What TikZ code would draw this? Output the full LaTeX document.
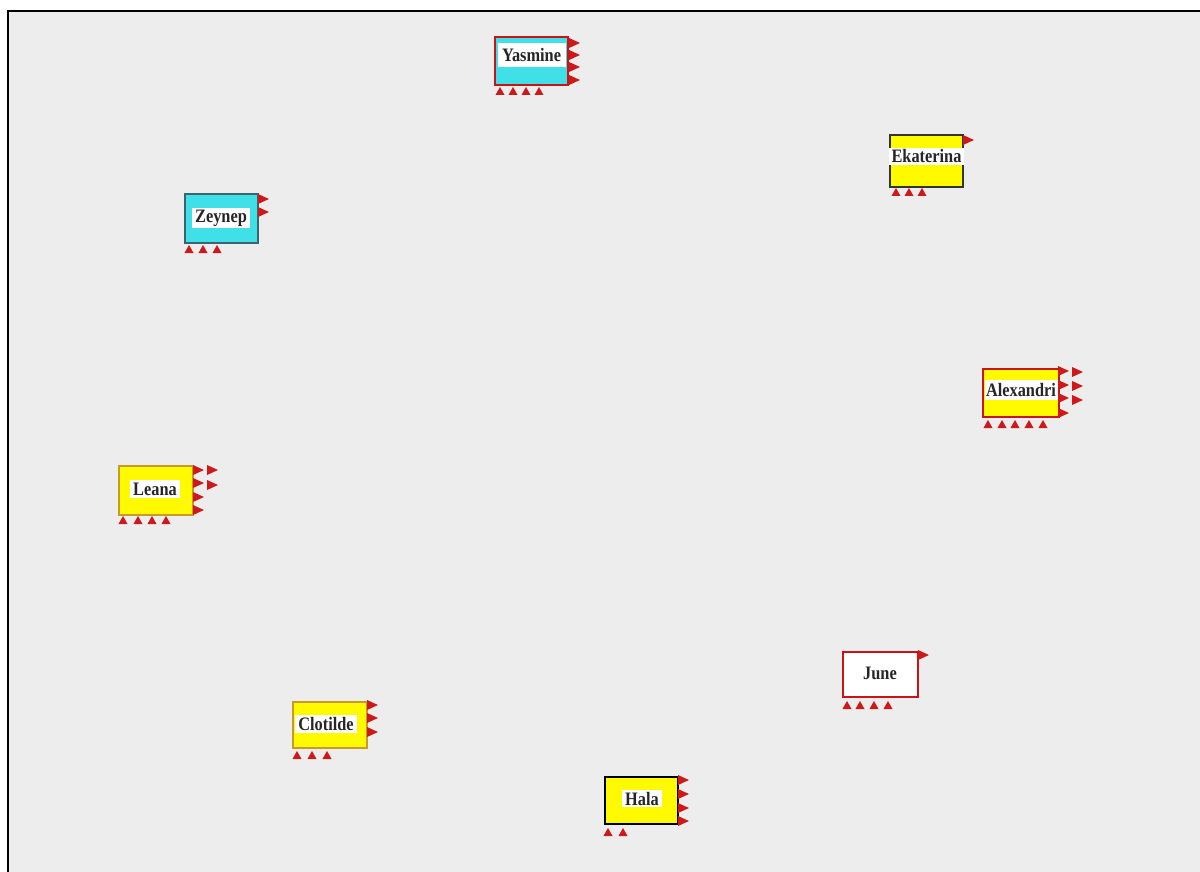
\documentclass[tikz,border=0pt]{standalone}
\usepackage{fontspec}
\setmainfont{Liberation Serif}
\newfontfamily\labfont{Liberation Serif}[FakeStretch=0.86]
\definecolor{bgc}{RGB}{237,237,237}
\definecolor{portred}{RGB}{205,25,25}
\definecolor{bordred}{RGB}{200,20,20}
\definecolor{cyanfill}{RGB}{64,224,232}
\definecolor{yelfill}{RGB}{255,250,0}
\definecolor{goldline}{RGB}{200,155,40}
\definecolor{tealline}{RGB}{60,100,110}
\newcommand\rports[2]{\foreach \yy in {#2} {\fill[portred] (#1,\yy-5) -- (#1+11,\yy) -- (#1,\yy+5) -- cycle;}}
\newcommand\bports[2]{\foreach \xx in {#2} {\fill[portred] (\xx-4.5,#1+4) -- (\xx,#1-4) -- (\xx+4.5,#1+4) -- cycle;}}
\tikzset{
  box/.style={rectangle, inner sep=0pt, outer sep=0pt},
  redbox/.style={box, draw=bordred, line width=2.5pt},
  thinbox/.style={box, draw=#1, line width=1.2pt},
  lab/.style={rectangle, inner sep=0pt, outer sep=0pt, fill=white, font=\labfont\bfseries\fontsize{19}{19}\selectfont, text=black!85}
}
\begin{document}
\begin{tikzpicture}[x=1pt,y=-1pt]
\useasboundingbox (0,0) rectangle (1200,872);
\fill[white] (0,0) rectangle (1200,872);
\fill[bgc] (8,11) rectangle (1200,872);
\draw[black, line width=2.5pt] (8,872) -- (8,11) -- (1200,11);

% Yasmine
\node[redbox, fill=cyanfill, minimum width=73pt, minimum height=48pt] (yas) at (531.5,61) {};
\node[lab, minimum width=68pt, minimum height=24pt] (yaslab) at (531.5,55) {Yasmine};
\rports{569}{43,55,67,80}
\bports{91}{500,513,526,539}

% Ekaterina
\node[thinbox=black!80, fill=yelfill, minimum width=73pt, minimum height=52pt] (eka) at (926.5,161) {};
\node[lab, minimum width=75pt, minimum height=17pt] (ekalab) at (926.5,156.5) {Ekaterina};
\rports{963}{140}
\bports{192}{896,909,922}

% Zeynep
\node[thinbox=tealline, fill=cyanfill, minimum width=73pt, minimum height=49pt] (zey) at (221.5,218.5) {};
\node[lab, minimum width=58pt, minimum height=20pt] (zeylab) at (221,218) {Zeynep};
\rports{258}{199,212}
\bports{249}{189,203,217}

% Alexandri
\node[redbox, fill=yelfill, minimum width=76pt, minimum height=48pt] (ale) at (1021,393) {};
\node[lab, minimum width=73pt, minimum height=20pt] (alelab) at (1021,390) {Alexandri};
\rports{1058}{371,385,398,413}
\rports{1072}{372,386,400}
\bports{424}{988,1002,1015,1029,1043}

% Leana
\node[thinbox=goldline, fill=yelfill, minimum width=74pt, minimum height=49pt] (lea) at (156,490.5) {};
\node[lab, minimum width=50pt, minimum height=18pt] (lealab) at (155,489) {Leana};
\rports{193}{470,483,497,510}
\rports{207}{470,485}
\bports{520}{123,138,152,166}

% June
\node[redbox, fill=white, minimum width=75pt, minimum height=45pt] (jun) at (880.5,674.5) {};
\node[lab, minimum width=40pt, minimum height=18pt] (junlab) at (880,673) {June};
\rports{918}{655}
\bports{705}{847,860,874,888}

% Clotilde
\node[thinbox=goldline, fill=yelfill, minimum width=74pt, minimum height=46pt] (clo) at (330,725) {};
\node[lab, minimum width=62pt, minimum height=18pt] (clolab) at (326,724) {Clotilde};
\rports{367}{705,718,732}
\bports{755}{297,312,327}

% Hala
\node[thinbox=black, line width=2pt, fill=yelfill, minimum width=73pt, minimum height=47pt] (hal) at (641.5,800.5) {};
\node[lab, minimum width=40pt, minimum height=17pt] (hallab) at (642,798.5) {Hala};
\rports{678}{780,794,808,821}
\bports{832}{608,623}
\end{tikzpicture}
\end{document}
